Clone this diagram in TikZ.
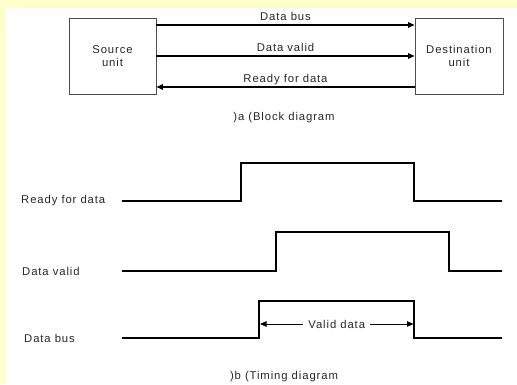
\documentclass[tikz,border=0pt]{standalone}
\usepackage{fontspec}
\setmainfont{Liberation Sans}[LetterSpace=8]
\usetikzlibrary{arrows.meta}
\definecolor{bgyellow}{RGB}{255,255,204}
\definecolor{txtgray}{RGB}{40,40,40}

\begin{document}
\begin{tikzpicture}[x=1pt,y=-1pt,
  every node/.style={font=\fontsize{11.3}{13.5}\selectfont, text=txtgray},
  unit/.style={draw=black!70, line width=0.9pt, minimum width=87pt, minimum height=76pt, align=center, inner sep=0pt},
  bus/.style={line width=1.4pt, -{Triangle[length=6.5pt,width=5.5pt]}},
  sig/.style={line width=1.4pt},
  lbl/.style={anchor=south, yshift=3.5pt, inner sep=0pt, text depth=0pt},
  sname/.style={anchor=west, inner sep=0pt}]
  \useasboundingbox (0,0) rectangle (517,384);
  % Fond
  \fill[bgyellow] (0,0) rectangle (517,384);
  \fill[white] (6,8) rectangle (517,384);
  % Schema bloc
  \node[unit] (src) at (112.5,56) {Source\\unit};
  \node[unit, minimum width=88pt] (dst) at (459,56) {Destination\\unit};
  \coordinate (ybus) at (0,25);
  \coordinate (yvalid) at (0,56);
  \coordinate (yready) at (0,87);
  \draw[bus] (src.east |- ybus) -- node[lbl] {Data bus} (dst.west |- ybus);
  \draw[bus] (src.east |- yvalid) -- node[lbl] {Data valid} (dst.west |- yvalid);
  \draw[bus] (dst.west |- yready) -- node[lbl] {Ready for data} (src.east |- yready);
  \node (capa) at (284,118) {)a (Block diagram};
  % Chronogramme
  \node[sname] (trdy) at (21,201) {Ready for data};
  \node[sname] (tval) at (22,271) {Data valid};
  \node[sname] (tbus) at (24,338) {Data bus};
  \draw[sig] (122,201) -- (241,201) -- (241,163) -- (414,163) -- (414,201) -- (502,201);
  \draw[sig] (122,271) -- (276,271) -- (276,232) -- (449,232) -- (449,271) -- (502,271);
  \draw[sig] (122,338) -- (259,338) -- (259,301) -- (414,301) -- (414,338) -- (502,338);
  \draw[line width=1pt, {Triangle[length=6.5pt,width=5.5pt]}-{Triangle[length=6.5pt,width=5.5pt]}]
    (260,324) -- node[fill=white, inner sep=5pt] (vdata) {Valid data} (413.5,324);
  \node (capb) at (284,377) {)b (Timing diagram};
\end{tikzpicture}
\end{document}
